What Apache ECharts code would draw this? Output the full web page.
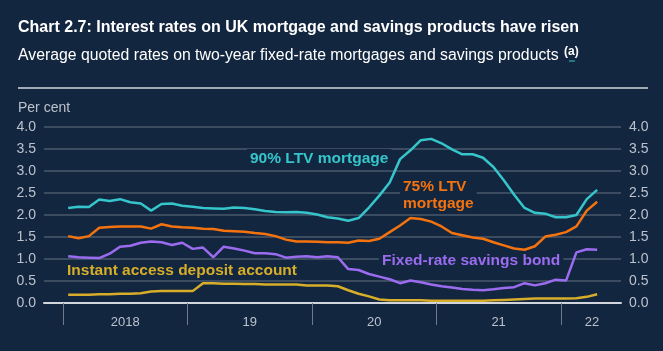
<!DOCTYPE html>
<html>
<head>
<meta charset="utf-8">
<script src="https://cdn.jsdelivr.net/npm/echarts@6/dist/echarts.min.js"></script>
<style>
  html, body { margin: 0; padding: 0; background: #13263f; }
  #chart { width: 663px; height: 351px; }
</style>
</head>
<body>
<div id="chart"></div>
<script>
// Monthly, Jan 2018 .. Apr 2022
const yearTicks = [0, 12, 24, 36, 48];
const yearLabelPos = [6, 18, 30, 42, 51];
const yearLabels = ['2018', '19', '20', '21', '22'];

const ltv90 = [2.16, 2.19, 2.18, 2.35, 2.32, 2.36, 2.29, 2.26, 2.10, 2.25, 2.26, 2.21,
               2.19, 2.16, 2.15, 2.14, 2.17, 2.16, 2.13, 2.09, 2.07, 2.06, 2.07, 2.05,
               2.01, 1.95, 1.92, 1.87, 1.93, 2.17, 2.44, 2.74, 3.27, 3.47, 3.70, 3.73,
               3.63, 3.49, 3.38, 3.38, 3.30, 3.09, 2.79, 2.46, 2.16, 2.05, 2.03, 1.95,
               1.95, 2.00, 2.36, 2.57];
const ltv75 = [1.52, 1.47, 1.52, 1.71, 1.73, 1.74, 1.74, 1.74, 1.69, 1.79, 1.74, 1.72,
               1.71, 1.69, 1.68, 1.64, 1.63, 1.62, 1.59, 1.57, 1.52, 1.44, 1.40, 1.40,
               1.39, 1.38, 1.38, 1.37, 1.42, 1.41, 1.46, 1.61, 1.76, 1.93, 1.91, 1.85,
               1.74, 1.59, 1.54, 1.49, 1.46, 1.38, 1.31, 1.24, 1.21, 1.29, 1.51, 1.55,
               1.61, 1.74, 2.10, 2.30];
const bond = [1.06, 1.04, 1.03, 1.02, 1.12, 1.28, 1.30, 1.37, 1.40, 1.38, 1.32, 1.37,
              1.23, 1.26, 1.04, 1.28, 1.24, 1.19, 1.13, 1.13, 1.11, 1.03, 1.05, 1.06,
              1.04, 1.06, 1.04, 0.77, 0.75, 0.66, 0.60, 0.54, 0.45, 0.51, 0.47, 0.42,
              0.38, 0.35, 0.32, 0.30, 0.29, 0.31, 0.34, 0.36, 0.45, 0.40, 0.45, 0.53,
              0.51, 1.15, 1.22, 1.21];
const instant = [0.19, 0.19, 0.19, 0.20, 0.20, 0.21, 0.21, 0.22, 0.26, 0.27, 0.27, 0.27,
                 0.27, 0.45, 0.45, 0.44, 0.44, 0.43, 0.43, 0.42, 0.42, 0.42, 0.42, 0.40,
                 0.40, 0.40, 0.38, 0.29, 0.21, 0.15, 0.08, 0.06, 0.06, 0.06, 0.06, 0.05,
                 0.05, 0.05, 0.05, 0.05, 0.05, 0.06, 0.07, 0.08, 0.09, 0.10, 0.10, 0.10,
                 0.10, 0.11, 0.14, 0.20];

const BG = '#13263f';
const FONT = "'Liberation Sans', Arial, sans-serif";

function toPoints(arr) {
    return arr.map((v, i) => [i + 0.5, v]);
}

function lineSeries(name, data, color) {
    return {
        name: name,
        type: 'line',
        data: toPoints(data),
        symbol: 'none',
        lineStyle: { color: color, width: 2.5 },
        z: 3
    };
}

function seriesLabel(text, left, top, color) {
    return {
        type: 'text',
        left: left,
        top: top,
        z: 10,
        style: {
            text: text,
            fill: color,
            font: 'bold 15.5px ' + FONT,
            lineHeight: 17,
            backgroundColor: BG,
            padding: [1, 3]
        }
    };
}

const chart = echarts.init(document.getElementById('chart'));

const yAxisCommon = {
    type: 'value',
    min: 0,
    max: 4,
    interval: 0.5,
    axisLine: { show: false },
    axisTick: { show: false },
    splitLine: { lineStyle: { color: '#4b5a6d', width: 1.5 } },
    axisLabel: {
        color: '#bcc2cc',
        fontSize: 14,
        fontFamily: FONT,
        margin: 8,
        formatter: v => v.toFixed(1)
    }
};

const option = {
    backgroundColor: BG,
    animation: false,
    grid: { left: 44, right: 42, top: 127, bottom: 48 },
    xAxis: {
        type: 'value',
        min: -1.83,
        max: 53.8,
        splitLine: { show: false },
        axisLine: { onZero: false, lineStyle: { color: '#d2d6dc', width: 2 } },
        axisTick: {
            customValues: yearTicks,
            length: 22,
            lineStyle: { color: '#6f7b8b', width: 1 }
        },
        axisLabel: {
            customValues: yearLabelPos,
            color: '#bcc2cc',
            fontSize: 13,
            fontFamily: FONT,
            margin: 13,
            formatter: v => yearLabels[yearLabelPos.indexOf(v)]
        }
    },
    yAxis: [
        Object.assign({}, yAxisCommon, { position: 'left' }),
        Object.assign({}, yAxisCommon, { position: 'right', splitLine: { show: false } })
    ],
    series: [
        lineSeries('90% LTV mortgage', ltv90, '#35c5cb'),
        lineSeries('75% LTV mortgage', ltv75, '#f5730f'),
        lineSeries('Fixed-rate savings bond', bond, '#9b6cf0'),
        lineSeries('Instant access deposit account', instant, '#d7ae2a')
    ],
    graphic: [
        {
            type: 'text', left: 18, top: 20,
            style: { text: 'Chart 2.7: Interest rates on UK mortgage and savings products have risen', fill: '#ffffff', font: 'bold 16px ' + FONT }
        },
        {
            type: 'text', left: 18, top: 48,
            style: { text: 'Average quoted rates on two-year fixed-rate mortgages and savings products', fill: '#ffffff', font: '15.8px ' + FONT }
        },
        {
            type: 'text', left: 564, top: 46,
            style: { text: '(a)', fill: '#ffffff', font: 'bold 12px ' + FONT }
        },
        {
            type: 'line', z: 1,
            shape: { x1: 569, y1: 61, x2: 575, y2: 61 },
            style: { stroke: '#35c5cb', lineWidth: 1 }
        },
        {
            type: 'line',
            shape: { x1: 18, y1: 88, x2: 648, y2: 88 },
            style: { stroke: '#a3abb6', lineWidth: 2 }
        },
        {
            type: 'text', left: 18, top: 101,
            style: { text: 'Per cent', fill: '#bcc2cc', font: '14px ' + FONT }
        },
        seriesLabel('90% LTV mortgage', 247, 149, '#35c5cb'),
        seriesLabel('75% LTV\nmortgage', 400, 177, '#f5730f'),
        seriesLabel('Fixed-rate savings bond', 379, 251, '#9b6cf0'),
        seriesLabel('Instant access deposit account', 64, 261, '#d7ae2a')
    ]
};

chart.setOption(option);
</script>
</body>
</html>
